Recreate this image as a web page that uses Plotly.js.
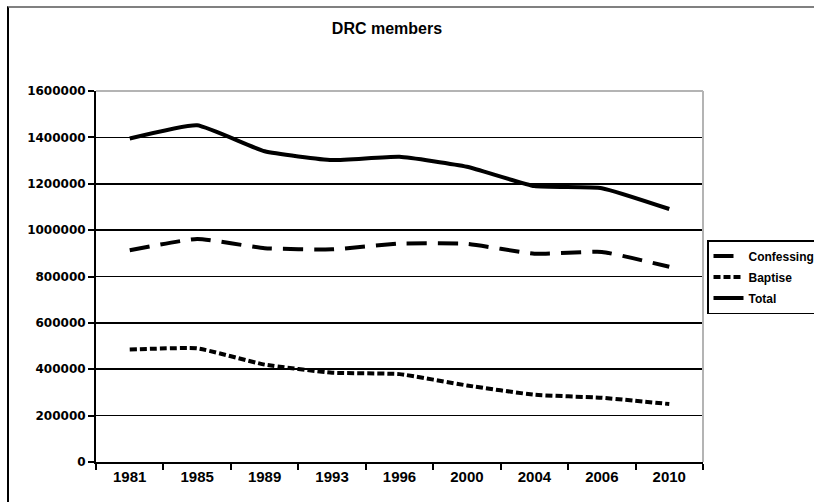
<!DOCTYPE html>
<html>
<head>
<meta charset="utf-8">
<script src="https://cdn.plot.ly/plotly-3.0.1.min.js"></script>
<style>
  html, body { margin: 0; padding: 0; background: #fff; }
  #wrap { position: relative; width: 814px; height: 502px; overflow: hidden; }
  #chart { position: absolute; left: 0; top: 0; width: 814px; height: 502px; }
  #frame { position: absolute; left: 7px; top: 6px; width: 900px; height: 600px;
           border-top: 2px solid #808080; border-left: 2px solid #000; pointer-events: none; }
</style>
</head>
<body>
<div id="wrap">
  <div id="chart"></div>
  <div id="frame"></div>
</div>
<script>
const years = ['1981', '1985', '1989', '1993', '1996', '2000', '2004', '2006', '2010'];
const confessing = [913000, 962000, 922000, 917000, 942000, 941000, 898000, 906000, 842000];
const baptise = [485000, 490000, 420000, 385000, 379000, 330000, 290000, 277000, 250000];
const total = [1395000, 1452000, 1340000, 1302000, 1316000, 1273000, 1190000, 1181000, 1091000];
const yTicks = [0, 200000, 400000, 600000, 800000, 1000000, 1200000, 1400000, 1600000];

const common = { type: 'scatter', mode: 'lines', x: years, hoverinfo: 'skip' };

const traces = [
  Object.assign({}, common, { name: 'Confessing', y: confessing, legendgroup: 'a',
    line: { color: '#000', width: 4, dash: '20px,11px', shape: 'spline', smoothing: 0.4 } }),
  Object.assign({}, common, { name: 'Baptise', y: baptise, legendgroup: 'b',
    line: { color: '#000', width: 4, dash: '7px,3px', shape: 'spline', smoothing: 0.4 } }),
  Object.assign({}, common, { name: 'Total', y: total, legendgroup: 'c',
    line: { color: '#000', width: 4, shape: 'spline', smoothing: 0.4 } })
];

const layout = {
  width: 814, height: 502,
  margin: { l: 96, r: 111, t: 91, b: 40 },
  paper_bgcolor: 'rgba(0,0,0,0)', plot_bgcolor: '#fff',
  showlegend: true,
  title: { text: 'DRC members', x: 387 / 814, xanchor: 'center', xref: 'container',
           y: 1 - 28 / 502, yanchor: 'middle', yref: 'container',
           font: { family: 'Liberation Sans, Arial, sans-serif', size: 16, color: '#000', weight: 'bold' } },
  xaxis: {
    type: 'category', categoryorder: 'array', categoryarray: years,
    range: [-0.5, 8.5], fixedrange: true,
    showline: true, linecolor: '#000', linewidth: 2,
    ticks: 'outside', tickson: 'boundaries', ticklen: 6, tickwidth: 2, tickcolor: '#000',
    showgrid: false, zeroline: false,
    tickfont: { family: 'Liberation Sans, Arial, sans-serif', size: 15, color: '#000', weight: 'bold' }
  },
  yaxis: {
    range: [0, 1600000], fixedrange: true,
    tickmode: 'array', tickvals: yTicks, ticktext: yTicks.map(String),
    showline: true, linecolor: '#000', linewidth: 2,
    ticks: 'outside', ticklen: 6, tickwidth: 2, tickcolor: '#000',
    showgrid: true, gridcolor: '#000', gridwidth: 1.6, zeroline: false,
    tickfont: { family: 'DejaVu Sans, sans-serif', size: 12, color: '#000', weight: 'bold' }
  },
  legend: {
    xref: 'container', yref: 'container',
    x: 707 / 814, y: 1 - 240 / 502, xanchor: 'left', yanchor: 'top',
    bgcolor: '#fff', bordercolor: '#000', borderwidth: 1.5,
    traceorder: 'grouped', tracegroupgap: 2,
    font: { family: 'Liberation Sans, Arial, sans-serif', size: 12, color: '#000', weight: 'bold' },
    itemwidth: 30
  },
  shapes: [
    { type: 'line', xref: 'paper', yref: 'paper', x0: 0, x1: 1, y0: 1, y1: 1,
      line: { color: '#b4b4b4', width: 2 }, layer: 'above' },
    { type: 'line', xref: 'paper', yref: 'paper', x0: 1, x1: 1, y0: 0, y1: 1,
      line: { color: '#b4b4b4', width: 2 }, layer: 'above' }
  ]
};

Plotly.newPlot('chart', traces, layout, { displayModeBar: false, staticPlot: true });
</script>
</body>
</html>
